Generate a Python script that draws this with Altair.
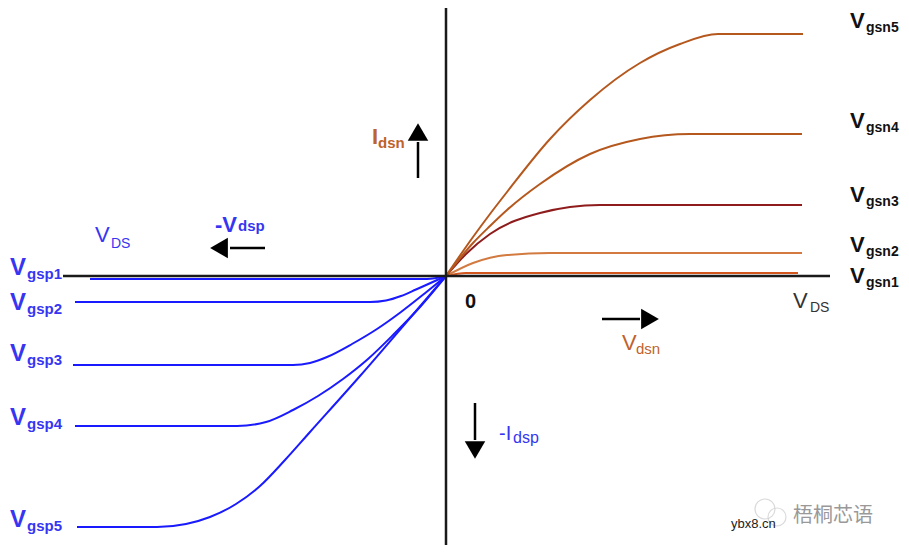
import altair as alt
import pandas as pd

# ---------------- data (diagram units, origin at the axes crossing) ----------------
n_names = ["Vgsn1", "Vgsn2", "Vgsn3", "Vgsn4", "Vgsn5"]
n_colors = ["#d4561f", "#d27a40", "#8e1c1c", "#b5581e", "#b5581e"]
n_x = [
    [0, 20, 352],
    [0, 27, 61, 104, 356],
    [0, 20, 44, 94, 154, 356],
    [0, 27, 44, 61, 94, 144, 194, 244, 356],
    [0, 27, 44, 61, 104, 144, 194, 234, 272, 357],
]
n_y = [
    [0, 3, 3],
    [0, 13, 21, 23, 23],
    [0, 22, 42, 63, 71, 71],
    [0, 33, 50, 66, 92, 122, 137, 142, 142],
    [0, 39, 62, 84, 137, 176, 213, 232, 242, 242],
]

p_names = ["Vgsp1", "Vgsp2", "Vgsp3", "Vgsp4", "Vgsp5"]
p_x = [
    [-356, -19, 0],
    [-371, -76, -60, -45, -30, 0],
    [-373, -153, -136, -119, -94, -69, -45, -22, 0],
    [-371, -209, -180, -153, -128, -103, -78, -53, -26, 0],
    [-369, -289, -260, -236, -210, -186, -161, -136, -86, -36, 0],
]
p_y = [
    [-3, -3, 0],
    [-26, -26, -24.5, -20, -13.5, 0],
    [-89, -89, -87, -81, -68, -53, -36, -18, 0],
    [-150, -150, -146, -134, -120, -103, -83, -59, -31, 0],
    [-251, -251, -248, -241, -228, -210, -184, -156, -100, -42, 0],
]

# label baselines for the curve names (same order as the names)
p_label_y = [1, -34, -85, -149, -251]
n_label_y = [-7, 24, 74, 148, 248]

FONT = "Liberation Sans"
BLUE_LINE = "#1a1aff"
BLUE_TXT = "#3636f2"
BROWN_TXT = "#c0622c"

rows = []
for name, col, xs_, ys_ in zip(n_names, n_colors, n_x, n_y):
    for a, b in zip(xs_, ys_):
        rows.append({"series": name, "x": a, "y": b, "color": col})
for name, xs_, ys_ in zip(p_names, p_x, p_y):
    for a, b in zip(xs_, ys_):
        rows.append({"series": name, "x": a, "y": b, "color": BLUE_LINE})
curves = pd.DataFrame(rows)

xs = alt.Scale(domain=[-438, 455])
ys = alt.Scale(domain=[-269, 268])
X = lambda f="x": alt.X(f, type="quantitative", scale=xs, axis=None)
Y = lambda f="y": alt.Y(f, type="quantitative", scale=ys, axis=None)

lines = alt.Chart(curves).mark_line(strokeWidth=2, interpolate="monotone").encode(
    x=X(), y=Y(), detail="series:N", color=alt.Color("color:N", scale=None)
)

axes_df = pd.DataFrame([
    {"x": 0, "x2": 0, "y": -272, "y2": 272},
    {"x": -383, "x2": 384, "y": 0, "y2": 0},
])
axes = alt.Chart(axes_df).mark_rule(color="#1a1a1a", strokeWidth=2.5).encode(
    x=X(), x2="x2", y=Y(), y2="y2"
)

# arrows: shafts and heads
shafts_df = pd.DataFrame([
    {"x": -216, "x2": -181, "y": 28, "y2": 28},
    {"x": -28, "x2": -28, "y": 98, "y2": 134},
    {"x": 156, "x2": 194, "y": -43, "y2": -43},
    {"x": 29, "x2": 29, "y": -127, "y2": -164},
])
shafts = alt.Chart(shafts_df).mark_rule(color="#000000", strokeWidth=2.5).encode(
    x=X(), x2="x2", y=Y(), y2="y2"
)
heads_df = pd.DataFrame([
    {"x": -227, "y": 28, "shape": "triangle-left"},
    {"x": -28, "y": 144, "shape": "triangle-up"},
    {"x": 204, "y": -43, "shape": "triangle-right"},
    {"x": 29, "y": -174, "shape": "triangle-down"},
])
heads = alt.Chart(heads_df).mark_point(filled=True, size=420, color="#000000", opacity=1).encode(
    x=X(), y=Y(), shape=alt.Shape("shape:N", scale=None)
)

# text annotations
ann = []
def add(text, x, y, size, color, weight):
    ann.append({"text": text, "x": x, "y": y, "size": size, "color": color, "weight": weight})

for name, ly in zip(p_names, p_label_y):
    add("V", -436, ly, 24, BLUE_TXT, "bold")
    add(name[1:], -419, ly - 4, 15, BLUE_TXT, "bold")
for name, ly in zip(n_names, n_label_y):
    add("V", 404, ly, 22, "#111111", "bold")
    add(name[1:], 420, ly - 4, 14, "#111111", "bold")

add("V", -351, 34, 22, BLUE_TXT, "normal")
add("DS", -335, 28, 14, BLUE_TXT, "normal")
add("-V", -231, 44, 22, BLUE_TXT, "bold")
add("dsp", -208, 45, 15, BLUE_TXT, "bold")
add("I", -74, 132, 22, BROWN_TXT, "bold")
add("dsn", -68, 128, 15, BROWN_TXT, "bold")
add("0", 19, -32, 20, "#111111", "bold")
add("V", 347, -32, 22, "#333333", "normal")
add("DS", 364, -36, 14, "#333333", "normal")
add("V", 176, -74, 22, BROWN_TXT, "normal")
add("dsn", 190, -78, 15, BROWN_TXT, "normal")
add("-I", 53, -164, 20, BLUE_TXT, "normal")
add("dsp", 67, -167, 16, BLUE_TXT, "normal")
add("ybx8.cn", 285, -252, 13, "#222222", "normal")

ann_df = pd.DataFrame(ann)

def text_layer(weight):
    return alt.Chart(ann_df[ann_df.weight == weight]).mark_text(
        align="left", baseline="alphabetic", font=FONT, fontWeight=weight
    ).encode(
        x=X(), y=Y(), text="text:N",
        size=alt.Size("size:Q", scale=None),
        color=alt.Color("color:N", scale=None),
    )

cjk_df = pd.DataFrame([{"text": "梧桐芯语", "x": 347, "y": -246}])
cjk = alt.Chart(cjk_df).mark_text(
    align="left", baseline="alphabetic", font="Noto Sans CJK SC", fontSize=20, color="#999999"
).encode(x=X(), y=Y(), text="text:N")

icon_df = pd.DataFrame([{"x": 319, "y": -233, "s": 400}, {"x": 331, "y": -241, "s": 324}])
icon = alt.Chart(icon_df).mark_point(shape="circle", filled=False, color="#cccccc", strokeWidth=1.2).encode(
    x=X(), y=Y(), size=alt.Size("s:Q", scale=None)
)

chart = alt.layer(
    icon, lines, axes, shafts, heads, text_layer("bold"), text_layer("normal"), cjk
).properties(
    width=893, height=537, padding=0, autosize=alt.AutoSizeParams(type="none"),
    background="white"
).configure_view(stroke=None)

chart.save("out.html", embed_options={"renderer": "svg", "actions": False})
